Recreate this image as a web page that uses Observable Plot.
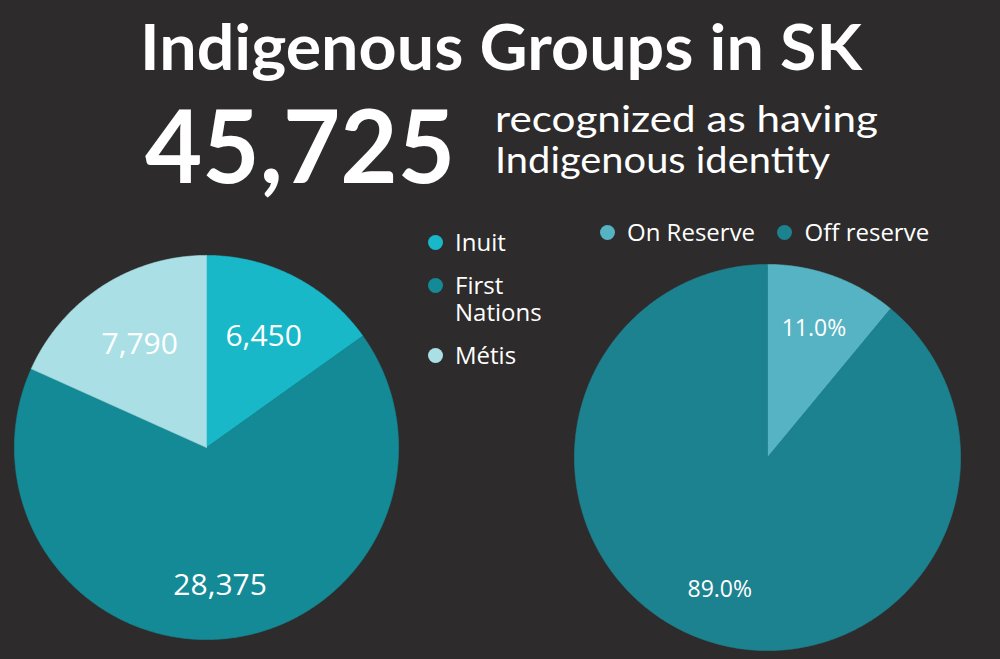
<!DOCTYPE html>
<html><head><meta charset="utf-8">
<script src="https://cdn.jsdelivr.net/npm/d3@7"></script>
<script src="https://cdn.jsdelivr.net/npm/@observablehq/plot@0.6"></script>
<style>
html,body{margin:0;padding:0;background:#2d2b2b;width:1000px;height:659px;overflow:hidden;}
#root{position:relative;width:1000px;height:659px;}
.abs{position:absolute;}
.legend{font-family:"Open Sans",sans-serif;color:#fff;font-size:24px;line-height:26.5px;}
.item{display:flex;align-items:flex-start;white-space:normal;}
.dot{width:15px;height:15px;border-radius:50%;flex:none;margin-top:6px;margin-right:12.5px;}
</style></head><body><div id="root">
<svg id="header" class="abs" style="left:0;top:0" width="1000" height="210"></svg>
<div id="leftPie" class="abs"></div>
<div id="rightPie" class="abs"></div>
<div id="leftLegend" class="abs legend" style="left:427.5px;top:229px;display:flex;flex-direction:column;gap:16.5px;"></div>
<div id="rightLegend" class="abs legend" style="left:599.5px;top:218.5px;display:flex;flex-direction:row;gap:22px;white-space:nowrap;"></div>
</div>
<script>
// ---- data ----
const titleText = "Indigenous Groups in SK";
const totalIdentity = 45725;
const subtitleLines = ["recognized as having", "Indigenous identity"];

const groupNames = ["Inuit", "First Nations", "Métis"];
const groupValues = [6450, 28375, 7790];

const reserveNames = ["On Reserve", "Off reserve"];
const reserveShares = [11.0, 89.0];

// ---- palettes ----
const groupColors = ["#18b8c9", "#138a96", "#aadfe6"];
const reserveColors = ["#55b3c3", "#1d8290"];

// ---- header ----
const NS = "http://www.w3.org/2000/svg";
const header = document.getElementById("header");
function addText(txt, attrs) {
  const t = document.createElementNS(NS, "text");
  for (const k in attrs) t.setAttribute(k, attrs[k]);
  t.textContent = txt;
  header.appendChild(t);
}
addText(titleText, {x:140, y:70, "font-family":"Lato", "font-weight":700, "font-size":64, fill:"#fff", textLength:722, lengthAdjust:"spacingAndGlyphs"});
addText(d3.format(",")(totalIdentity), {x:145, y:183, "font-family":"Lato", "font-weight":700, "font-size":102, fill:"#fff", textLength:310, lengthAdjust:"spacingAndGlyphs"});
addText(subtitleLines[0], {x:495, y:132, "font-family":"Lato", "font-weight":400, "font-size":37, fill:"#fff", textLength:383, lengthAdjust:"spacingAndGlyphs"});
addText(subtitleLines[1], {x:495, y:173, "font-family":"Lato", "font-weight":400, "font-size":37, fill:"#fff", textLength:335, lengthAdjust:"spacingAndGlyphs"});

// ---- pies ----
function pieChart({names, values, colors, labelText, radius, labelK, fontSize}) {
  const arcs = d3.pie().sort(null).value(d => d)(values);
  const pts = [];
  const labels = [];
  arcs.forEach((a, i) => {
    const name = names[i];
    pts.push({name, x: 0, y: 0});
    const n = Math.max(2, Math.ceil((a.endAngle - a.startAngle) / (Math.PI / 360)));
    for (let k = 0; k <= n; k++) {
      const t = a.startAngle + (a.endAngle - a.startAngle) * k / n;
      pts.push({name, x: Math.sin(t), y: Math.cos(t)});
    }
    pts.push({name, x: 0, y: 0});
    const mid = (a.startAngle + a.endAngle) / 2;
    const kk = labelK(i, a);
    labels.push({x: kk * Math.sin(mid), y: kk * Math.cos(mid), text: labelText(values[i], i)});
  });
  const pad = 1.01;
  const size = Math.round(2 * radius * pad);
  return Plot.plot({
    width: size, height: size, margin: 0,
    x: {domain: [-pad, pad], axis: null},
    y: {domain: [-pad, pad], axis: null},
    color: {domain: names, range: colors},
    style: {background: "transparent", overflow: "visible"},
    marks: [
      Plot.line(pts, {x: "x", y: "y", z: "name", fill: "name", stroke: "name", strokeWidth: 0.6, curve: "linear"}),
      Plot.text(labels, {x: "x", y: "y", text: "text", fill: "#ffffff", fontSize, fontFamily: "Open Sans", textAnchor: "middle"})
    ]
  });
}

const leftR = 192, rightR = 193;
const leftPie = pieChart({
  names: groupNames, values: groupValues, colors: groupColors, radius: leftR, fontSize: 30,
  labelText: v => d3.format(",")(v),
  labelK: (i) => [0.65, 0.72, 0.64][i]
});
const lp = document.getElementById("leftPie");
lp.appendChild(leftPie);
lp.style.left = (206 - leftPie.getAttribute("width") / 2) + "px";
lp.style.top = (447 - leftPie.getAttribute("height") / 2) + "px";

const rightPie = pieChart({
  names: reserveNames, values: reserveShares, colors: reserveColors, radius: rightR, fontSize: 23,
  labelText: v => d3.format(".1f")(v) + "%",
  labelK: (i) => [0.71, 0.73][i]
});
const rp = document.getElementById("rightPie");
rp.appendChild(rightPie);
rp.style.left = (767 - rightPie.getAttribute("width") / 2) + "px";
rp.style.top = (457 - rightPie.getAttribute("height") / 2) + "px";

// ---- legends ----
function legend(el, names, colors, maxW) {
  names.forEach((n, i) => {
    const item = document.createElement("div");
    item.className = "item";
    const dot = document.createElement("span");
    dot.className = "dot";
    dot.style.background = colors[i];
    const lab = document.createElement("span");
    lab.textContent = n;
    if (maxW) lab.style.maxWidth = maxW + "px";
    item.appendChild(dot); item.appendChild(lab);
    el.appendChild(item);
  });
}
legend(document.getElementById("leftLegend"), groupNames, groupColors, 95);
legend(document.getElementById("rightLegend"), reserveNames, reserveColors);
</script>
</body></html>
